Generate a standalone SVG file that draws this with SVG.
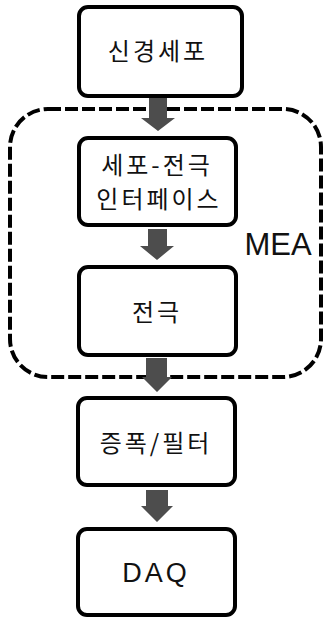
<svg xmlns="http://www.w3.org/2000/svg" width="324" height="618" viewBox="0 0 324 618">
<defs>
<style>
.box{fill:#fff;stroke:#000;stroke-width:4}
.kt{font-family:"Noto Sans CJK KR","Noto Sans",sans-serif;font-size:24px;fill:#111;text-anchor:middle;letter-spacing:3px}
.lt{font-family:"Liberation Sans",Arial,sans-serif;fill:#111;text-anchor:middle}
.arr{fill:#4d4d4d}
</style>
</defs>
<rect width="324" height="618" fill="#fff"/>
<g id="mea">
<rect x="10" y="109" width="311" height="268" rx="38" ry="38" fill="none" stroke="#000" stroke-width="4" stroke-dasharray="13,4"/>
<text class="lt" x="278" y="255" font-size="31">MEA</text>
</g>
<g id="connectors">
<path class="arr" d="M149,97 H167 V118 H175 L158,131 L141,118 H149 Z"/>
<path class="arr" d="M148,229 H167 V246 H174 L157,260 L140,246 H148 Z"/>
<path class="arr" d="M146,358 H167 V377 H172 L157,392 L142,377 H146 Z"/>
<path class="arr" d="M146,490 H168 V506 H173 L157,522 L141,506 H146 Z"/>
</g>
<g id="n1">
<rect class="box" x="79" y="7" width="163" height="89" rx="9"/>
<text class="kt" x="158" y="60">신경세포</text>
</g>
<g id="n2">
<rect class="box" x="79" y="138" width="157" height="87" rx="9"/>
<text class="kt" x="157" y="174">세포-전극</text>
<text class="kt" x="159" y="208">인터페이스</text>
</g>
<g id="n3">
<rect class="box" x="79" y="267" width="157" height="88" rx="9"/>
<text class="kt" x="157" y="321">전극</text>
</g>
<g id="n4">
<rect class="box" x="78" y="398" width="157" height="87" rx="9"/>
<text class="kt" x="156" y="452">증폭/필터</text>
</g>
<g id="n5">
<rect class="box" x="78" y="529" width="157" height="86" rx="9"/>
<text class="lt" x="156" y="582" font-size="27" letter-spacing="3">DAQ</text>
</g>
</svg>
